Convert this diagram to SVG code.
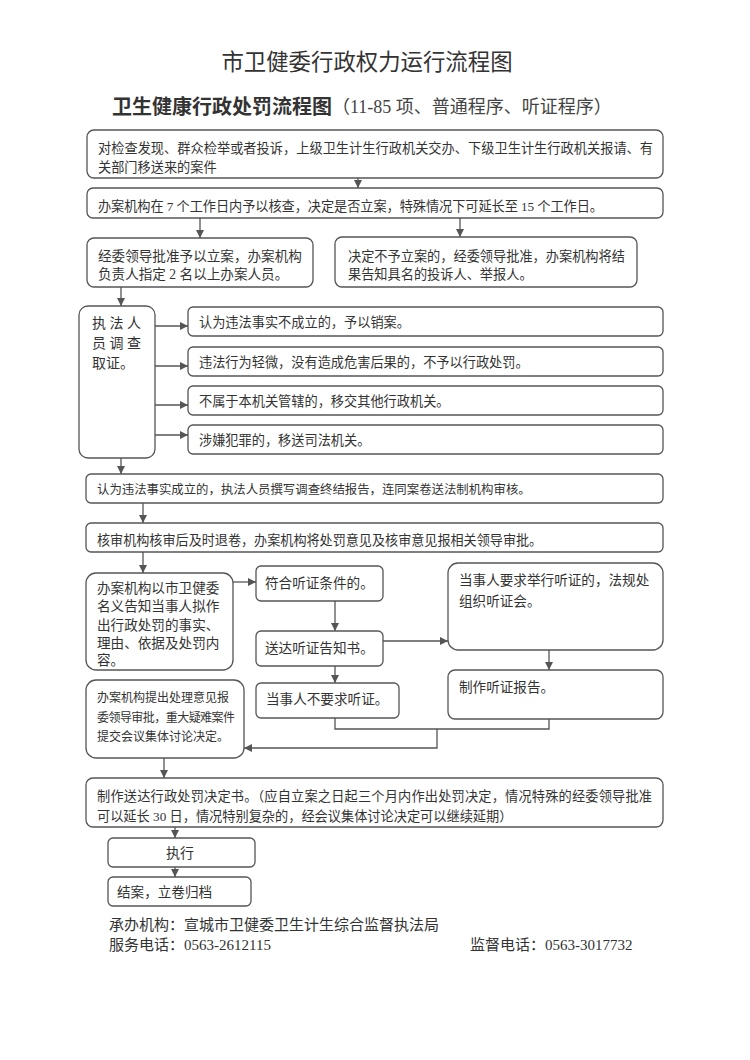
<svg xmlns="http://www.w3.org/2000/svg" width="750" height="1060" viewBox="0 0 750 1060">
<style>
text{font-family:"Liberation Serif","Noto Sans CJK SC",serif;fill:#333;dominant-baseline:central}
.box{fill:#fff;stroke:#555;stroke-width:1.3}
.c{fill:none;stroke:#555;stroke-width:1.3}
.t13{font-size:13.2px}
.t14{font-size:13.8px}
</style>
<defs>
<marker id="ah" viewBox="0 0 10 10" refX="10" refY="5" markerWidth="8" markerHeight="8" markerUnits="userSpaceOnUse" orient="auto">
<path d="M0,0 L10,5 L0,10 z" fill="#555"/>
</marker>
</defs>
<rect width="750" height="1060" fill="#fff"/>
<text x="367" y="62" text-anchor="middle" style="font-size:22.4px" fill="#333">市卫健委行政权力运行流程图</text>
<text x="112" y="107" style="font-size:20px;font-weight:bold" fill="#222">卫生健康行政处罚流程图<tspan style="font-size:18px;font-weight:normal" fill="#444">（11-85 项、普通程序、听证程序）</tspan></text>

<g id="connectors">
<path class="c" marker-end="url(#ah)" d="M358,178 V188"/>
<path class="c" marker-end="url(#ah)" d="M200,218 V238"/>
<path class="c" marker-end="url(#ah)" d="M460,218 V237"/>
<path class="c" marker-end="url(#ah)" d="M121,287 V306"/>
<path class="c" marker-end="url(#ah)" d="M155,326 H188"/>
<path class="c" marker-end="url(#ah)" d="M155,366 H188"/>
<path class="c" marker-end="url(#ah)" d="M155,405 H188"/>
<path class="c" marker-end="url(#ah)" d="M155,435 H188"/>
<path class="c" marker-end="url(#ah)" d="M121,458 V474"/>
<path class="c" marker-end="url(#ah)" d="M143,503 V523"/>
<path class="c" marker-end="url(#ah)" d="M143,552 V573"/>
<path class="c" marker-end="url(#ah)" d="M233,582 H256"/>
<path class="c" marker-end="url(#ah)" d="M335,601 V631"/>
<path class="c" marker-end="url(#ah)" d="M383,641 H448"/>
<path class="c" marker-end="url(#ah)" d="M549,650 V670"/>
<path class="c" marker-end="url(#ah)" d="M335,666 V683"/>
<path class="c" d="M335,718 V729 H549 V719"/>
<path class="c" marker-end="url(#ah)" d="M437,729 V748 H244"/>
<path class="c" marker-end="url(#ah)" d="M164,758 V778"/>
<path class="c" marker-end="url(#ah)" d="M175,827 V838"/>
<path class="c" marker-end="url(#ah)" d="M175,867 V877"/>
</g>

<g id="n1"><rect class="box" x="87" y="130" width="576" height="48" rx="7"/>
<text class="t13" x="98" y="148" textLength="555">对检查发现、群众检举或者投诉，上级卫生计生行政机关交办、下级卫生计生行政机关报请、有</text>
<text class="t13" x="98" y="167">关部门移送来的案件</text></g>

<g id="n2"><rect class="box" x="87" y="188" width="576" height="30" rx="6"/>
<text class="t13" x="98" y="206" textLength="505">办案机构在 7 个工作日内予以核查，决定是否立案，特殊情况下可延长至 15 个工作日。</text></g>

<g id="n3a"><rect class="box" x="87" y="238" width="226" height="49" rx="7"/>
<text class="t14" x="98" y="256" style="font-size:13.6px">经委领导批准予以立案，办案机构</text>
<text class="t14" x="98" y="274" style="font-size:13.6px">负责人指定 2 名以上办案人员。</text></g>

<g id="n3b"><rect class="box" x="335" y="237" width="302" height="50" rx="7"/>
<text class="t13" x="348" y="256">决定不予立案的，经委领导批准，办案机构将结</text>
<text class="t13" x="348" y="274">果告知具名的投诉人、举报人。</text></g>

<g id="n4"><rect class="box" x="79" y="306" width="76" height="152" rx="9"/>
<text class="t14" x="92" y="323" style="font-size:14px">执 法 人</text>
<text class="t14" x="92" y="343" style="font-size:14px">员 调 查</text>
<text class="t14" x="92" y="363" style="font-size:14px">取证。</text></g>

<g id="n4a"><rect class="box" x="188" y="307" width="475" height="29" rx="5"/>
<text class="t13" x="199" y="322">认为违法事实不成立的，予以销案。</text></g>
<g id="n4b"><rect class="box" x="188" y="347" width="475" height="29" rx="5"/>
<text class="t13" x="199" y="362">违法行为轻微，没有造成危害后果的，不予以行政处罚。</text></g>
<g id="n4c"><rect class="box" x="188" y="386" width="475" height="29" rx="5"/>
<text class="t13" x="199" y="401">不属于本机关管辖的，移交其他行政机关。</text></g>
<g id="n4d"><rect class="box" x="188" y="425" width="475" height="29" rx="5"/>
<text class="t13" x="199" y="440">涉嫌犯罪的，移送司法机关。</text></g>

<g id="n5"><rect class="box" x="86" y="474" width="577" height="29" rx="5"/>
<text x="97" y="490" style="font-size:12.4px">认为违法事实成立的，执法人员撰写调查终结报告，连同案卷送法制机构审核。</text></g>

<g id="n6"><rect class="box" x="86" y="523" width="577" height="29" rx="5"/>
<text class="t13" x="97" y="540" style="font-size:13.1px">核审机构核审后及时退卷，办案机构将处罚意见及核审意见报相关领导审批。</text></g>

<g id="n7"><rect class="box" x="86" y="573" width="147" height="97" rx="10"/>
<text x="97" y="588" style="font-size:13.6px">办案机构以市卫健委</text>
<text x="97" y="606" style="font-size:13.6px">名义告知当事人拟作</text>
<text x="97" y="625" style="font-size:13.6px">出行政处罚的事实、</text>
<text x="97" y="643" style="font-size:13.6px">理由、依据及处罚内</text>
<text x="97" y="660" style="font-size:13.6px">容。</text></g>

<g id="n8"><rect class="box" x="256" y="566" width="127" height="35" rx="5"/>
<text x="265" y="583" style="font-size:13.6px">符合听证条件的。</text></g>

<g id="n9"><rect class="box" x="256" y="631" width="127" height="35" rx="5"/>
<text x="265" y="648" style="font-size:13.6px">送达听证告知书。</text></g>

<g id="n10"><rect class="box" x="448" y="563" width="215" height="87" rx="10"/>
<text x="459" y="580" style="font-size:13.6px">当事人要求举行听证的，法规处</text>
<text x="459" y="601" style="font-size:13.6px">组织听证会。</text></g>

<g id="n11"><rect class="box" x="448" y="670" width="215" height="49" rx="7"/>
<text x="459" y="687" style="font-size:13.6px">制作听证报告。</text></g>

<g id="n12"><rect class="box" x="256" y="683" width="143" height="35" rx="5"/>
<text x="266" y="699" style="font-size:13.6px">当事人不要求听证。</text></g>

<g id="n13"><rect class="box" x="86" y="680" width="158" height="78" rx="10"/>
<text x="97" y="698" style="font-size:12px">办案机构提出处理意见报</text>
<text x="97" y="718" style="font-size:12px" textLength="138">委领导审批，重大疑难案件</text>
<text x="97" y="737" style="font-size:12px">提交会议集体讨论决定。</text></g>

<g id="n14"><rect class="box" x="86" y="778" width="577" height="49" rx="7"/>
<text class="t13" x="97" y="796" textLength="555">制作送达行政处罚决定书。（应自立案之日起三个月内作出处罚决定，情况特殊的经委领导批准</text>
<text class="t13" x="97" y="816">可以延长 30 日，情况特别复杂的，经会议集体讨论决定可以继续延期）</text></g>

<g id="n15"><rect class="box" x="108" y="838" width="147" height="29" rx="5"/>
<text x="180" y="853" text-anchor="middle" style="font-size:14px">执行</text></g>

<g id="n16"><rect class="box" x="108" y="877" width="143" height="29" rx="5"/>
<text x="117" y="892" style="font-size:13.6px">结案，立卷归档</text></g>

<text x="109" y="925" style="font-size:15px" fill="#444">承办机构：宣城市卫健委卫生计生综合监督执法局</text>
<text x="109" y="945" style="font-size:15px" fill="#444">服务电话：0563-2612115</text>
<text x="470" y="945" style="font-size:15px" fill="#444">监督电话：0563-3017732</text>
</svg>
